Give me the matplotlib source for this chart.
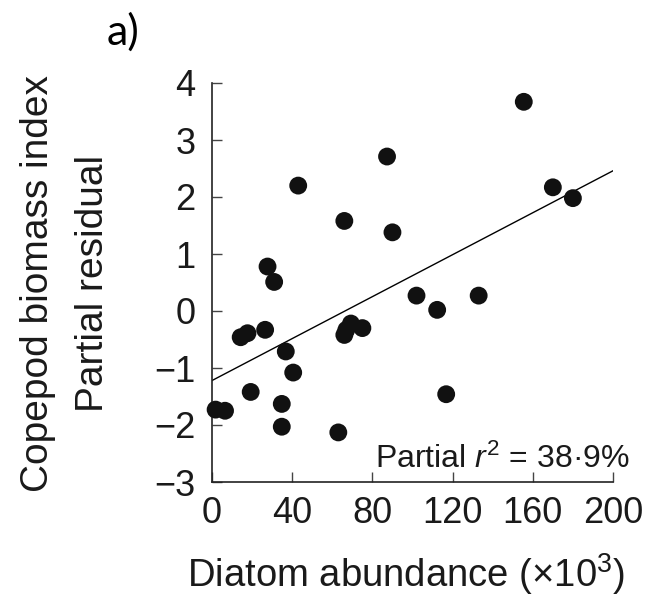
import numpy as np
from matplotlib import pyplot as plt

plt.rcParams['font.family'] = ['Liberation Sans', 'DejaVu Sans']
plt.rcParams['mathtext.fontset'] = 'custom'
plt.rcParams['mathtext.rm'] = 'Liberation Sans'
plt.rcParams['mathtext.it'] = 'Liberation Sans:italic'

W, H = 651, 597

# partial residuals
diatom = [155.5, 87.3, 43.0, 170.0, 180.0, 66.0, 90.0, 27.7, 31.0, 102.0,
          133.0, 112.3, 14.3, 17.7, 26.5, 67.0, 69.3, 75.0, 66.0, 36.8,
          40.5, 19.3, 116.8, 1.8, 6.5, 34.8, 34.8, 63.0]
residual = [3.67, 2.71, 2.20, 2.17, 1.98, 1.58, 1.38, 0.78, 0.51, 0.27,
            0.27, 0.02, -0.46, -0.39, -0.33, -0.33, -0.22, -0.30, -0.42, -0.71,
            -1.08, -1.42, -1.46, -1.73, -1.75, -1.63, -2.03, -2.13]

# fitted partial regression line
fit_intercept = -1.22
fit_slope = 0.0184

x_ticks = [0, 40, 80, 120, 160, 200]
y_ticks = [-3, -2, -1, 0, 1, 2, 3, 4]
y_tick_labels = ['\u22123', '\u22122', '\u22121', '0', '1', '2', '3', '4']


def px(x, y):
    """Pixel position (from the top left) to figure fraction."""
    return x / W, 1 - y / H


fig = plt.figure(figsize=(W / 100, H / 100), dpi=100)
ax = fig.add_axes([212 / W, 1 - 482 / H, 401 / W, 399 / H])

ax.scatter(diatom, residual, s=165, color='#111111', edgecolors='none',
           clip_on=False, zorder=3)

xs = np.array([0, 200])
ax.plot(xs, fit_intercept + fit_slope * xs, color='black', lw=1.0, zorder=2)

ax.set_xlim(0, 200)
ax.set_ylim(-3, 4)
ax.set_xticks(x_ticks)
ax.set_xticklabels([str(v) for v in x_ticks])
ax.set_yticks(y_ticks)
ax.set_yticklabels(y_tick_labels)
ax.tick_params(direction='in', length=7, width=1.0, labelsize=26,
               color='#444444', labelcolor='#1a1a1a')
ax.tick_params(axis='x', pad=10)
ax.tick_params(axis='y', pad=12)
for side in ['top', 'right']:
    ax.spines[side].set_visible(False)
for side in ['left', 'bottom']:
    ax.spines[side].set_linewidth(1.2)
    ax.spines[side].set_color('#222222')

fig.text(*px(375, 468), 'Partial $r^2$ = 38\u00b79%', fontsize=23,
         ha='left', va='baseline', color='#1a1a1a')

fig.text(*px(406, 587), 'Diatom abundance (\u00d710$^3$)', fontsize=27.5,
         ha='center', va='baseline', color='#1a1a1a')
fig.text(*px(48, 283), 'Copepod biomass index', rotation=90,
         rotation_mode='anchor', fontsize=28, ha='center', va='baseline',
         color='#1a1a1a')
fig.text(*px(103, 283), 'Partial residual', rotation=90,
         rotation_mode='anchor', fontsize=28, ha='center', va='baseline',
         color='#1a1a1a')
fig.text(*px(123, 32), 'a)', fontsize=31, ha='center', va='center',
         family=['Lato', 'DejaVu Sans'])

fig.savefig('out.png', dpi=100)
